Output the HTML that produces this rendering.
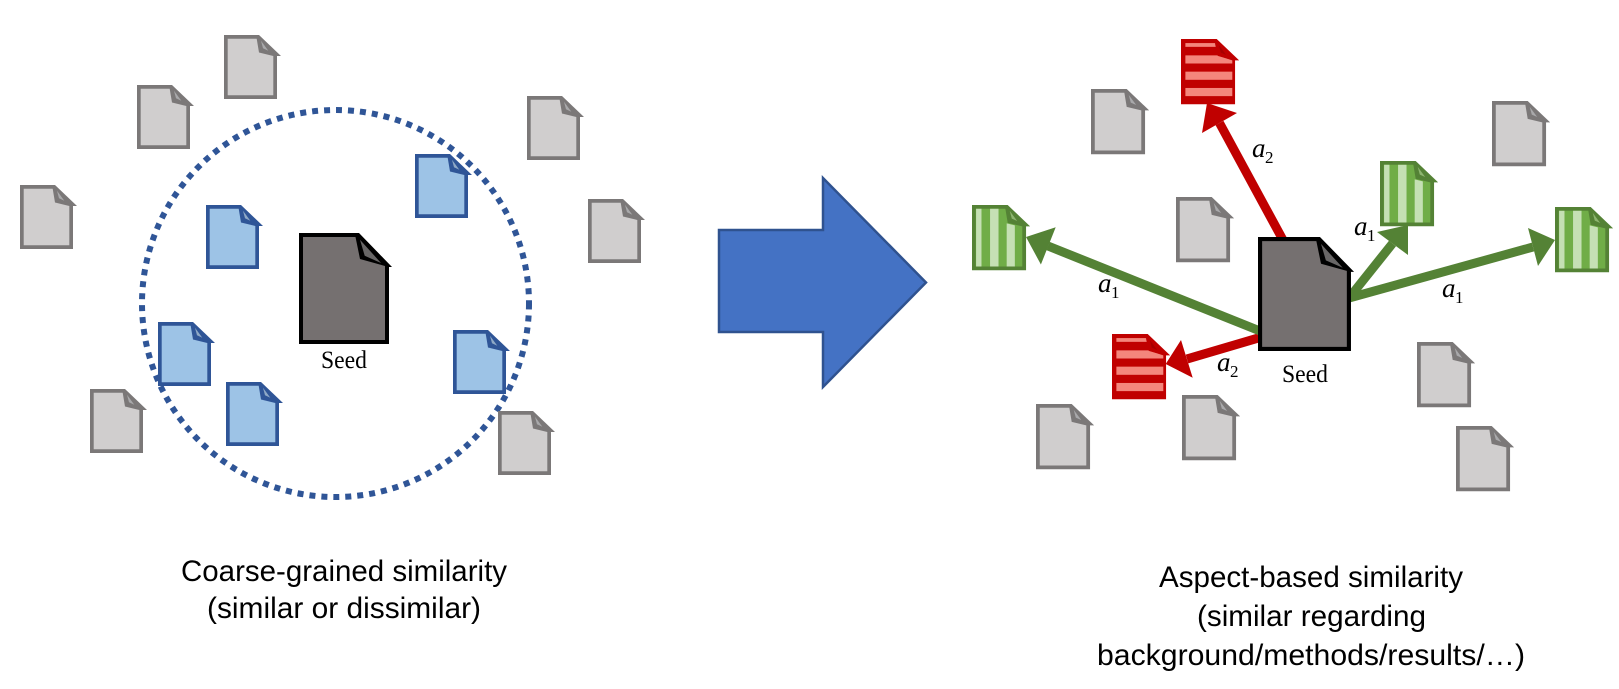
<!DOCTYPE html>
<html><head><meta charset="utf-8"><style>
html,body{margin:0;padding:0;background:#fff;width:1619px;height:689px;overflow:hidden}
svg{display:block}
.cap{font-family:"Liberation Sans",sans-serif;font-size:30px;fill:#000}
.seed{font-family:"Liberation Serif",serif;font-size:25px;fill:#000}
.a{font-family:"Liberation Serif",serif;font-style:italic;font-size:27px;fill:#000}
.s{font-family:"Liberation Serif",serif;font-size:17px;fill:#000}
</style></head><body>
<svg width="1619" height="689" viewBox="0 0 1619 689" xmlns="http://www.w3.org/2000/svg">
<defs>
<path id="sil" d="M0,0H35L57,21H53V64H0Z"/>
<path id="body" d="M3.7,3.7H32.700L35,17.500L49.300,21V60.300H3.700Z"/>
<path id="foldin" d="M37,5.700L44.300,15.700L39,13.300Z"/>
<g id="gray">
<use href="#sil" fill="#7B7878"/><use href="#body" fill="#D0CECE"/><use href="#foldin" fill="#A9A9AB"/>
</g>
<g id="blue">
<use href="#sil" fill="#2F5597"/><use href="#body" fill="#9DC3E6"/><use href="#foldin" fill="#8FA9C6"/>
</g>
<g id="red">
<use href="#sil" fill="#C00000"/>
<rect x="4.300" y="4" width="30" height="3.700" fill="#F4867C"/>
<path d="M4.300,16H36L50.300,21V24H4.300Z" fill="#F4867C"/>
<rect x="4.300" y="32" width="46" height="8" fill="#F4867C"/>
<rect x="4.300" y="48" width="46" height="8" fill="#F4867C"/>
<path d="M33,3L36,16.500L51,21Z" fill="#C00000"/>
<use href="#foldin" fill="#A80000"/>
</g>
<g id="green">
<use href="#sil" fill="#548235"/><use href="#body" fill="#70AD47"/>
<rect x="4" y="3.700" width="5.300" height="56.600" fill="#C5E0B4"/>
<rect x="17.700" y="3.700" width="8.300" height="56.600" fill="#C5E0B4"/>
<path d="M34,18L42,20V60.300H34Z" fill="#C5E0B4"/>
<use href="#foldin" fill="#8DB56F"/>
</g>
<g id="seeddoc">
<path d="M0,0H60L93,34H90V111H0Z" fill="#000"/>
<path d="M4,4H56.500L61,26L86,33V107H4Z" fill="#757070"/>
<path d="M61,6.700L82,30L65.700,22.700Z" fill="#686666"/>
</g>
</defs>
<rect width="1619" height="689" fill="#fff"/>

<!-- Left panel -->
<circle cx="335.500" cy="303.500" r="193.500" fill="none" stroke="#2F5597" stroke-width="6" stroke-dasharray="6 6"/>
<use href="#gray" transform="translate(224,35)"/>
<use href="#gray" transform="translate(137,85)"/>
<use href="#gray" transform="translate(20,185)"/>
<use href="#gray" transform="translate(527,96)"/>
<use href="#gray" transform="translate(588,199)"/>
<use href="#gray" transform="translate(90,389)"/>
<use href="#gray" transform="translate(498,411)"/>
<use href="#blue" transform="translate(206,205)"/>
<use href="#blue" transform="translate(415,154)"/>
<use href="#blue" transform="translate(158,322)"/>
<use href="#blue" transform="translate(226,382)"/>
<use href="#blue" transform="translate(453,330)"/>
<use href="#seeddoc" transform="translate(299,233)"/>
<text class="seed" x="321" y="368" textLength="46" lengthAdjust="spacingAndGlyphs">Seed</text>

<!-- Big arrow -->
<polygon points="719,230 823,230 823,178 926,282.500 823,387 823,332 719,332" fill="#4472C4" stroke="#2F528F" stroke-width="2.500"/>

<!-- Right panel documents -->
<use href="#gray" transform="translate(1091,89) scale(1.02,1.02)"/>
<use href="#gray" transform="translate(1176,197) scale(1.02,1.02)"/>
<use href="#gray" transform="translate(1492,101) scale(1.02,1.02)"/>
<use href="#gray" transform="translate(1036,404) scale(1.02,1.02)"/>
<use href="#gray" transform="translate(1182,395) scale(1.02,1.02)"/>
<use href="#gray" transform="translate(1417,342) scale(1.02,1.02)"/>
<use href="#gray" transform="translate(1456,426) scale(1.02,1.02)"/>
<use href="#red" transform="translate(1181,39) scale(1.02,1.02)"/>
<use href="#red" transform="translate(1112,334) scale(1.02,1.02)"/>
<use href="#green" transform="translate(972,205) scale(1.02,1.02)"/>
<use href="#green" transform="translate(1380,161) scale(1.02,1.02)"/>
<use href="#green" transform="translate(1555,207) scale(1.02,1.02)"/>

<!-- Arrows -->
<g stroke-width="9" fill="none">
<line x1="1283" y1="240" x2="1219.500" y2="123" stroke="#C00000"/>
<line x1="1260" y1="337.500" x2="1187" y2="359" stroke="#C00000"/>
<line x1="1260" y1="331" x2="1048" y2="246" stroke="#548235"/>
<line x1="1349" y1="298" x2="1392.500" y2="243.500" stroke="#548235"/>
<line x1="1349" y1="298" x2="1533" y2="247" stroke="#548235"/>
</g>
<polygon points="1207,103 1237,113 1202,133" fill="#C00000"/>
<polygon points="1165.700,364 1181,340 1192.700,377.700" fill="#C00000"/>
<polygon points="1026,237 1055.700,227.300 1040.900,264.500" fill="#548235"/>
<polygon points="1408,225 1377,232 1408,255" fill="#548235"/>
<polygon points="1555,240 1528,228 1538,266" fill="#548235"/>

<use href="#seeddoc" transform="translate(1258,237) scale(1.033,1.027)"/>
<text class="seed" x="1282" y="382" textLength="46" lengthAdjust="spacingAndGlyphs">Seed</text>

<!-- Edge labels -->
<text class="a" x="1252" y="157">a</text><text class="s" x="1265" y="163">2</text>
<text class="a" x="1098" y="292">a</text><text class="s" x="1111" y="298">1</text>
<text class="a" x="1217" y="371">a</text><text class="s" x="1230" y="377">2</text>
<text class="a" x="1354" y="235">a</text><text class="s" x="1367" y="241">1</text>
<text class="a" x="1442" y="297">a</text><text class="s" x="1455" y="303">1</text>

<!-- Captions -->
<text class="cap" x="181" y="581" textLength="326" lengthAdjust="spacingAndGlyphs">Coarse-grained similarity</text>
<text class="cap" x="207" y="618" textLength="274" lengthAdjust="spacingAndGlyphs">(similar or dissimilar)</text>
<text class="cap" x="1159" y="587" textLength="304" lengthAdjust="spacingAndGlyphs">Aspect-based similarity</text>
<text class="cap" x="1197" y="626" textLength="229" lengthAdjust="spacingAndGlyphs">(similar regarding</text>
<text class="cap" x="1097" y="665" textLength="428" lengthAdjust="spacingAndGlyphs">background/methods/results/…)</text>
</svg>
</body></html>
